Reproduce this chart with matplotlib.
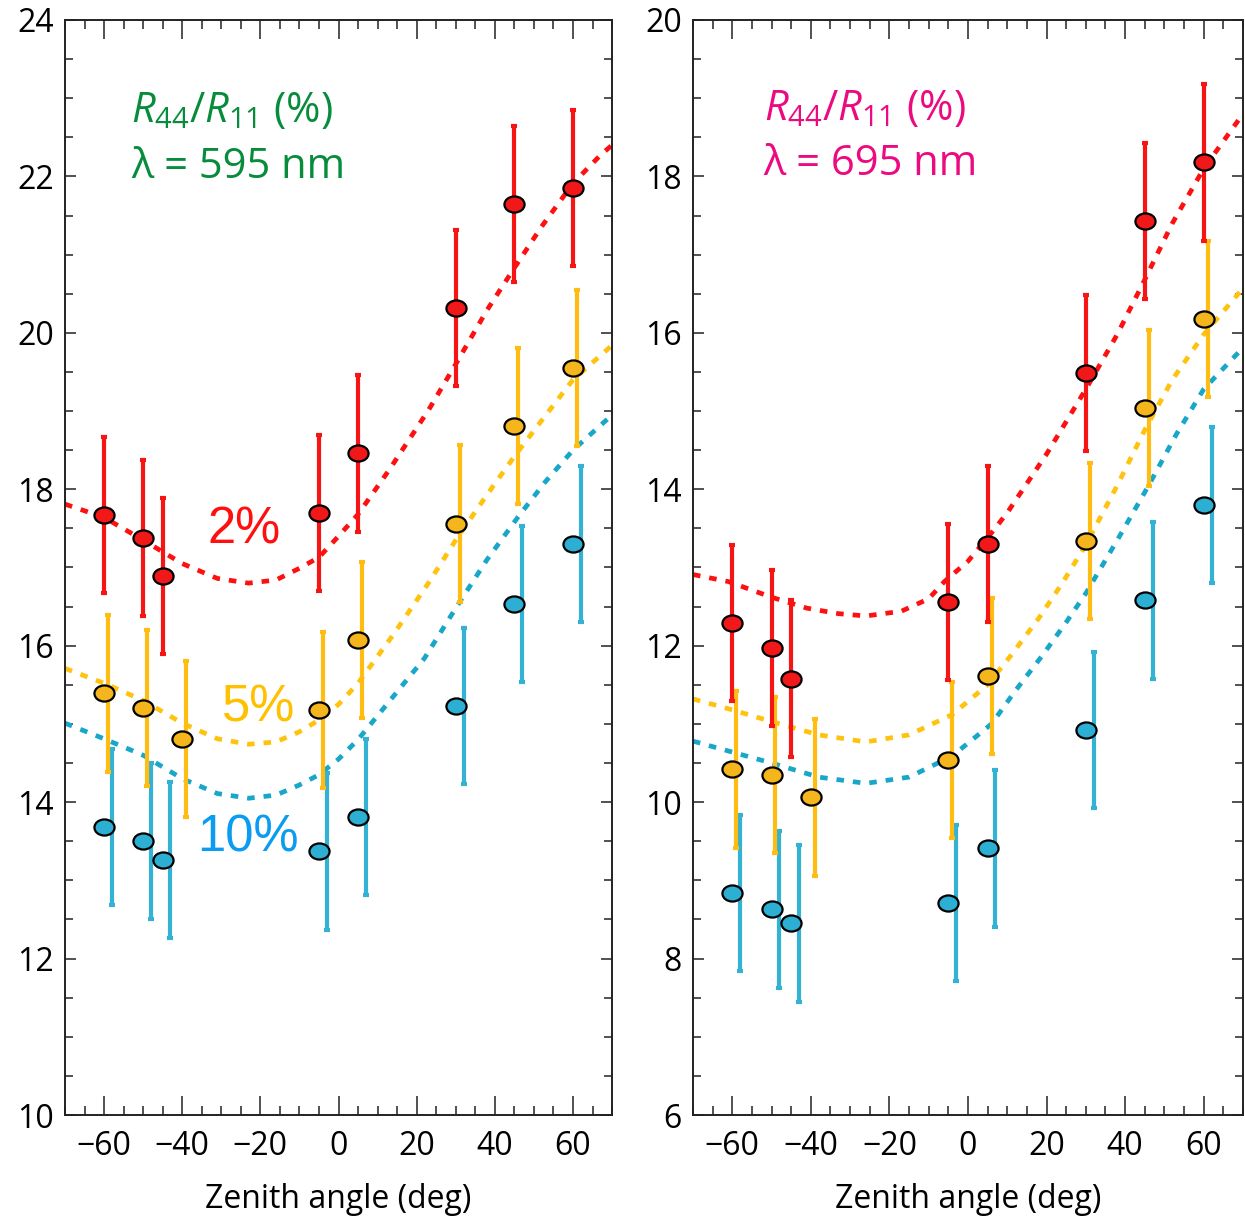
import numpy as np
import matplotlib.pyplot as plt
from matplotlib.path import Path
from matplotlib.ticker import MultipleLocator

plt.rcParams['font.family'] = ['Open Sans', 'DejaVu Sans']
plt.rcParams['mathtext.fontset'] = 'custom'
plt.rcParams['mathtext.rm'] = 'Open Sans'
plt.rcParams['mathtext.it'] = 'Open Sans:italic'

# zenith angles of the measurements
ang_2 = [-60, -50, -45, -5, 5, 30, 45, 60]
ang_5 = [-60, -50, -40, -5, 5, 30, 45, 60]
ang_10 = [-60, -50, -45, -5, 5, 30, 45, 60]

# lambda = 595 nm, measured R44/R11 (%)
m595_2 = [17.67, 17.38, 16.89, 17.70, 18.46, 20.32, 21.65, 21.85]
m595_5 = [15.39, 15.20, 14.81, 15.18, 16.07, 17.56, 18.81, 19.55]
m595_10 = [13.68, 13.50, 13.26, 13.37, 13.81, 15.23, 16.53, 17.30]

# lambda = 695 nm, measured R44/R11 (%)
m695_2 = [12.29, 11.97, 11.58, 12.56, 13.30, 15.49, 17.43, 18.18]
m695_5 = [10.42, 10.35, 10.06, 10.54, 11.61, 13.34, 15.04, 16.18]
m695_10 = [8.84, 8.63, 8.45, 8.71, 9.41, 10.92, 12.58, 13.80]

err = [1.0, 1.0, 1.0, 1.0, 1.0, 1.0, 1.0, 1.0]

# model curves, 595 nm
c595_2_x = [-70, -60, -50, -40, -31, -23, -16, -10, -5, 0, 5, 13, 23, 30, 38, 45, 52, 60, 67, 70]
c595_2_y = [17.81, 17.64, 17.35, 17.05, 16.86, 16.80, 16.84, 16.99, 17.13, 17.40, 17.68, 18.25,
            19.01, 19.60, 20.29, 20.83, 21.36, 21.91, 22.27, 22.40]
c595_5_x = [-70, -60, -50, -40, -31, -23, -16, -10, -5, 0, 5, 14, 23, 30, 38, 45, 52, 60, 70]
c595_5_y = [15.71, 15.52, 15.30, 15.01, 14.81, 14.74, 14.77, 14.90, 15.05, 15.25, 15.52, 16.14,
            16.80, 17.35, 17.93, 18.42, 18.88, 19.40, 19.84]
c595_10_x = [-70, -60, -50, -40, -31, -23, -16, -10, -5, 0, 5, 14, 22, 30, 38, 46, 53, 60, 70]
c595_10_y = [15.01, 14.81, 14.60, 14.30, 14.11, 14.05, 14.09, 14.22, 14.35, 14.55, 14.80, 15.35,
             15.84, 16.48, 17.10, 17.65, 18.10, 18.50, 18.95]

# model curves, 695 nm
c695_2_x = [-70, -61, -50, -41, -33, -26, -17, -10, -6, 0, 5, 10, 20, 30, 38, 45, 52, 60, 70]
c695_2_y = [12.91, 12.82, 12.62, 12.48, 12.41, 12.38, 12.44, 12.60, 12.82, 13.08, 13.38, 13.70,
            14.45, 15.28, 15.98, 16.68, 17.40, 18.10, 18.80]
c695_5_x = [-70, -60, -50, -38, -26, -15, -4, 5, 11, 18, 24, 30, 38, 45, 52, 60, 70]
c695_5_y = [11.32, 11.18, 11.03, 10.86, 10.77, 10.86, 11.12, 11.50, 11.88, 12.35, 12.80, 13.29,
            14.05, 14.76, 15.40, 15.98, 16.57]
c695_10_x = [-70, -60, -50, -38, -26, -15, -4, 6, 12, 19, 25, 30, 38, 46, 53, 60, 70]
c695_10_y = [10.78, 10.64, 10.50, 10.32, 10.24, 10.32, 10.59, 11.00, 11.42, 11.88, 12.30, 12.67,
             13.35, 14.05, 14.70, 15.28, 15.81]

# colours: line, errorbar, marker fill
col_2 = ('#ff1010', '#f51515', '#f01818')
col_5 = ('#ffc20e', '#ffbd14', '#f4b61c')
col_10 = ('#18a7c9', '#34b2d3', '#2cafd2')

circ = Path.unit_circle()
ellipse = Path(circ.vertices * np.array([1.25, 1.0]), circ.codes)


def draw_series(ax, ang, vals, cx, cy, cols, dx):
    ax.plot(cx, cy, color=cols[0], lw=3.4, ls=(0, (1.6, 1.9)), zorder=2,
            solid_capstyle='butt', dash_capstyle='butt')
    ax.errorbar(np.array(ang) + dx, vals, yerr=err, fmt='none', ecolor=cols[1],
                elinewidth=3.0, capsize=2.2, capthick=3.0, zorder=3)
    ax.plot(ang, vals, ls='none', marker=ellipse, ms=14.5, mfc=cols[2], mec='black',
            mew=1.6, zorder=4)


def style_axis(ax, ylo, yhi):
    ax.set_xlim(-70, 70)
    ax.set_ylim(ylo, yhi)
    ax.xaxis.set_major_locator(MultipleLocator(20))
    ax.xaxis.set_minor_locator(MultipleLocator(5))
    ax.yaxis.set_major_locator(MultipleLocator(2))
    ax.yaxis.set_minor_locator(MultipleLocator(0.5))
    ax.tick_params(which='both', direction='in', top=True, right=True, width=1.1,
                   labelsize=23, color='#222222')
    ax.tick_params(axis='x', which='major', length=14, pad=11)
    ax.tick_params(axis='x', which='minor', length=6.5)
    ax.tick_params(axis='y', which='major', length=8, pad=8)
    ax.tick_params(axis='y', which='minor', length=6)
    for s in ax.spines.values():
        s.set_linewidth(1.4)
        s.set_color('#222222')
    ax.set_xlabel('Zenith angle (deg)', fontsize=23, labelpad=14)


fig = plt.figure(figsize=(12.45, 12.17), dpi=100)
ax1 = fig.add_axes([0.0522, 0.0838, 0.4394, 0.8998])
ax2 = fig.add_axes([0.5566, 0.0838, 0.4418, 0.8998])

draw_series(ax1, ang_10, m595_10, c595_10_x, c595_10_y, col_10, 2.0)
draw_series(ax1, ang_5, m595_5, c595_5_x, c595_5_y, col_5, 1.0)
draw_series(ax1, ang_2, m595_2, c595_2_x, c595_2_y, col_2, 0.0)
style_axis(ax1, 10, 24)

draw_series(ax2, ang_10, m695_10, c695_10_x, c695_10_y, col_10, 2.0)
draw_series(ax2, ang_5, m695_5, c695_5_x, c695_5_y, col_5, 1.0)
draw_series(ax2, ang_2, m695_2, c695_2_x, c695_2_y, col_2, 0.0)
style_axis(ax2, 6, 20)

green = '#078c3c'
pink = '#ec0a80'
ax1.text(-53, 22.70, r'$R_{44}/R_{11}$ (%)', color=green, fontsize=30, va='baseline')
ax1.text(-53, 21.98, 'λ = 595 nm', color=green, fontsize=30, va='baseline')
ax2.text(-52, 18.72, r'$R_{44}/R_{11}$ (%)', color=pink, fontsize=30, va='baseline')
ax2.text(-52, 18.02, 'λ = 695 nm', color=pink, fontsize=30, va='baseline')

lab_font = ['Liberation Sans', 'DejaVu Sans']
ax1.text(-24.3, 17.48, '2%', color='#ff1010', fontsize=36.5, ha='center', va='center',
         family=lab_font)
ax1.text(-20.5, 15.20, '5%', color='#ffc000', fontsize=36.5, ha='center', va='center',
         family=lab_font)
ax1.text(-23.3, 13.54, '10%', color='#0a9cf0', fontsize=36.5, ha='center', va='center',
         family=lab_font)

fig.savefig('out.png', dpi=100)
